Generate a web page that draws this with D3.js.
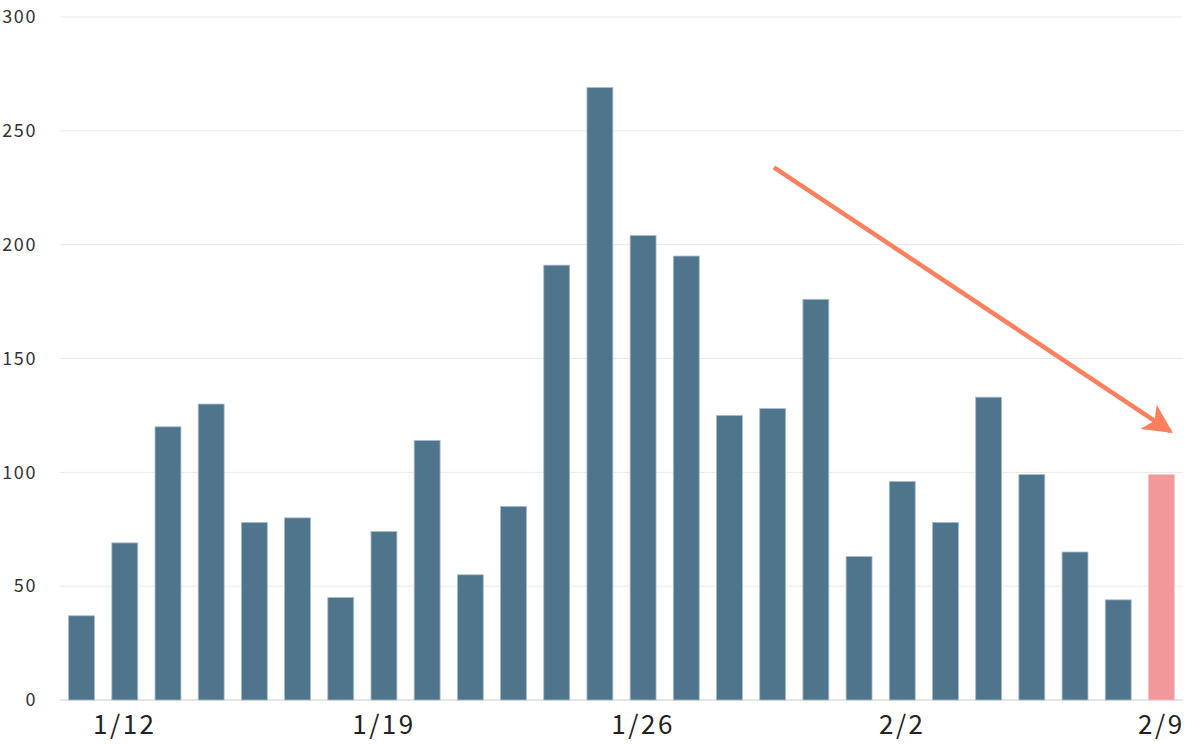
<!DOCTYPE html>
<html><head><meta charset="utf-8">
<script src="https://cdn.jsdelivr.net/npm/d3@7"></script>
<style>body{margin:0;background:#fff}svg{display:block}</style>
</head><body>
<svg id="c" width="1200" height="744"></svg>
<script>
const dates = ["1/11","1/12","1/13","1/14","1/15","1/16","1/18","1/19","1/20","1/21","1/22","1/23","1/25","1/26","1/27","1/28","1/29","1/30","2/1","2/2","2/3","2/4","2/5","2/6","2/8","2/9"];
const values = [37,69,120,130,78,80,45,74,114,55,85,191,269,204,195,125,128,176,63,96,78,133,99,65,44,99];
const highlight = ["2/9"];
const xTickLabels = ["1/12","1/19","1/26","2/2","2/9"];
const yTicks = [0,50,100,150,200,250,300];

const svg = d3.select("#c");
const m = {l:60, r:17, t:17, b:44};
const W = 1200, H = 744;
const x = d3.scaleBand().domain(dates).range([m.l, W - m.r]).paddingInner(0.4).paddingOuter(0.2);
const y = d3.scaleLinear().domain([0,300]).range([H - m.b, m.t]);
const font = "'Noto Sans CJK JP','Noto Sans',sans-serif";

// grid
svg.append("g").selectAll("line").data(yTicks).join("line")
  .attr("x1", m.l).attr("x2", W - m.r)
  .attr("y1", d => y(d)).attr("y2", d => y(d))
  .attr("stroke", d => d === 0 ? "#cccccc" : "#e9e9e9").attr("stroke-width", 1);

// y axis labels
const yAxis = d3.axisLeft(y).tickValues(yTicks).tickSize(0).tickPadding(0);
const gy = svg.append("g").attr("transform", `translate(37,0)`).call(yAxis);
gy.select(".domain").remove();
gy.selectAll("text").attr("font-family", font).attr("font-size", 18).attr("fill", "#333").attr("letter-spacing", "1.6px");

// bars
svg.append("g").selectAll("rect").data(dates).join("rect")
  .attr("x", d => x(d)).attr("width", x.bandwidth())
  .attr("y", (d,i) => y(values[i])).attr("height", (d,i) => y(0) - y(values[i]))
  .attr("fill", d => highlight.includes(d) ? "#f2989b" : "#4f758d")
  .attr("stroke", d => highlight.includes(d) ? "#f6c4c5" : "#a9bccb").attr("stroke-width", 0.8);

// x axis labels
const xAxis = d3.axisBottom(x).tickValues(xTickLabels).tickSize(0).tickPadding(0);
const gx = svg.append("g").attr("transform", `translate(0,${H - m.b})`).call(xAxis);
gx.select(".domain").remove();
gx.selectAll("text").attr("font-family", font).attr("font-size", 26).attr("fill", "#222")
  .attr("dy", "1.3em").attr("letter-spacing", "2.5px");

// arrow
const defs = svg.append("defs");
defs.append("marker").attr("id","ah").attr("viewBox","0 0 10 10").attr("refX",9).attr("refY",5)
  .attr("markerWidth",6.5).attr("markerHeight",6.5).attr("markerUnits","strokeWidth").attr("orient","auto")
  .append("path").attr("d","M0,0 L10,5 L0,10 L2.5,5 Z").attr("fill","#fa805e");
svg.append("line")
  .attr("x1", x(dates[17]) - 29).attr("y1", y(234))
  .attr("x2", x(dates[25]) + x.bandwidth()*0.85).attr("y2", y(118))
  .attr("stroke","#fa805e").attr("stroke-width",4.5).attr("marker-end","url(#ah)");
</script>
</body></html>
